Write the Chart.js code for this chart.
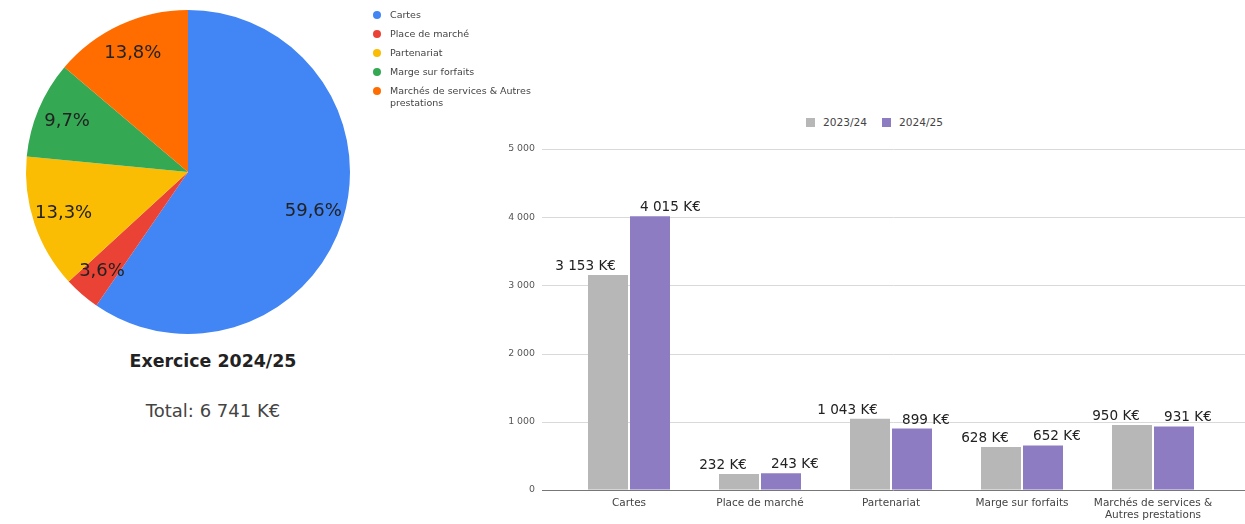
<!DOCTYPE html>
<html><head><meta charset="utf-8">
<script src="https://cdn.jsdelivr.net/npm/chart.js@4.4.1/dist/chart.umd.min.js"></script>
<style>
html,body{margin:0;padding:0;background:#fff;}
body{width:1245px;height:524px;position:relative;overflow:hidden;font-family:'DejaVu Sans',sans-serif;}
#pie{position:absolute;left:0;top:0;}
#bar{position:absolute;left:470px;top:100px;}
#pieLegend{position:absolute;left:373px;top:9px;}
.pl-row{display:flex;align-items:flex-start;min-height:19px;}
.pl-dot{width:8px;height:8px;border-radius:50%;margin-top:2px;margin-right:9px;flex:none;}
.pl-text{font-size:9.5px;line-height:12px;color:#444;width:160px;}
#title{position:absolute;left:0;width:426px;top:351px;text-align:center;font-weight:bold;font-size:17.4px;line-height:20px;color:#222;}
#total{position:absolute;left:0;width:426px;top:400px;text-align:center;font-size:18px;line-height:22px;color:#444;}
#barLegend{position:absolute;left:806px;top:115px;display:flex;align-items:center;height:14px;font-size:10.6px;color:#444;}
.bl-item{display:flex;align-items:center;margin-right:15px;}
.bl-box{width:9px;height:9px;margin-right:8px;}
</style>
</head>
<body>
<canvas id="pie" width="376" height="344"></canvas>
<div id="pieLegend"></div>
<div id="title"></div>
<div id="total"></div>
<div id="barLegend"></div>
<canvas id="bar" width="775" height="424"></canvas>
<script>
const categories = ['Cartes', 'Place de marché', 'Partenariat', 'Marge sur forfaits', 'Marchés de services & Autres prestations'];
const seriesNames = ['2023/24', '2024/25'];
const values2023 = [3153, 232, 1043, 628, 950];
const values2024 = [4015, 243, 899, 652, 931];
const yTicks = [0, 1000, 2000, 3000, 4000, 5000];
const pieColors = ['#4285F4', '#EA4335', '#FBBC04', '#34A853', '#FF6D01'];
const barColors = ['#B7B7B7', '#8E7CC3'];
const pieTitle = 'Exercice 2024/25';
const totalLabel = 'Total: 6 741 K€';

const FONT = "'DejaVu Sans', sans-serif";
const fmt = v => String(v).replace(/\B(?=(\d{3})+(?!\d))/g, ' ');
function wrap(text, max) {
  const words = text.split(' '); const lines = []; let cur = '';
  words.forEach(w => {
    const t = cur ? cur + ' ' + w : w;
    if (t.length > max && cur) { lines.push(cur); cur = w; } else cur = t;
  });
  if (cur) lines.push(cur);
  return lines.length === 1 ? lines[0] : lines;
}

// HTML legends and captions
const pl = document.getElementById('pieLegend');
categories.forEach((c, i) => {
  const row = document.createElement('div'); row.className = 'pl-row';
  const dot = document.createElement('div'); dot.className = 'pl-dot'; dot.style.background = pieColors[i];
  const tx = document.createElement('div'); tx.className = 'pl-text'; tx.textContent = c;
  row.appendChild(dot); row.appendChild(tx); pl.appendChild(row);
});
document.getElementById('title').textContent = pieTitle;
document.getElementById('total').textContent = totalLabel;
const bl = document.getElementById('barLegend');
seriesNames.forEach((s, i) => {
  const it = document.createElement('div'); it.className = 'bl-item';
  const b = document.createElement('div'); b.className = 'bl-box'; b.style.background = barColors[i];
  const t = document.createElement('span'); t.textContent = s;
  it.appendChild(b); it.appendChild(t); bl.appendChild(it);
});

// Pie
const pieLabelPlugin = {
  id: 'pieLabels',
  afterDatasetsDraw(chart) {
    const ctx = chart.ctx; const meta = chart.getDatasetMeta(0);
    const data = chart.data.datasets[0].data;
    const total = data.reduce((a, b) => a + b, 0);
    ctx.save();
    ctx.font = '18px ' + FONT; ctx.fillStyle = '#222';
    ctx.textAlign = 'center'; ctx.textBaseline = 'middle';
    meta.data.forEach((el, i) => {
      const p = el.getProps(['x', 'y', 'startAngle', 'endAngle', 'outerRadius'], true);
      const mid = (p.startAngle + p.endAngle) / 2;
      const r = p.outerRadius * 0.81;
      const txt = (data[i] / total * 100).toFixed(1).replace('.', ',') + '%';
      ctx.fillText(txt, p.x + Math.cos(mid) * r, p.y + Math.sin(mid) * r);
    });
    ctx.restore();
  }
};
new Chart(document.getElementById('pie'), {
  type: 'pie',
  data: { labels: categories, datasets: [{ data: values2024, backgroundColor: pieColors, borderWidth: 0 }] },
  options: {
    responsive: false, animation: false,
    layout: { padding: 10 },
    plugins: { legend: { display: false }, tooltip: { enabled: false } }
  },
  plugins: [pieLabelPlugin]
});

// Bars
const gridPlugin = {
  id: 'extGrid',
  beforeDatasetsDraw(chart) {
    const ctx = chart.ctx, y = chart.scales.y;
    const x0 = chart.chartArea.left - 21.5, x1 = chart.width;
    ctx.save(); ctx.lineWidth = 1; ctx.strokeStyle = '#d9d9d9';
    yTicks.forEach(v => {
      if (v === 0) return;
      const py = Math.round(y.getPixelForValue(v)) + 0.5;
      ctx.beginPath(); ctx.moveTo(x0, py); ctx.lineTo(x1, py); ctx.stroke();
    });
    ctx.restore();
  },
  afterDatasetsDraw(chart) {
    const ctx = chart.ctx, y = chart.scales.y;
    const x0 = chart.chartArea.left - 21.5, x1 = chart.width;
    const py = Math.round(y.getPixelForValue(0)) + 0.5;
    ctx.save(); ctx.lineWidth = 1; ctx.strokeStyle = '#777';
    ctx.beginPath(); ctx.moveTo(x0, py); ctx.lineTo(x1, py); ctx.stroke();
    ctx.restore();
  }
};
const barLabelPlugin = {
  id: 'barLabels',
  afterDatasetsDraw(chart) {
    const ctx = chart.ctx;
    ctx.save(); ctx.font = '13.6px ' + FONT; ctx.fillStyle = '#222'; ctx.textBaseline = 'alphabetic';
    chart.data.datasets.forEach((ds, di) => {
      const meta = chart.getDatasetMeta(di);
      meta.data.forEach((bar, i) => {
        const p = bar.getProps(['x', 'y', 'width'], true);
        const txt = fmt(ds.data[i]) + ' K€';
        if (di === 0) { ctx.textAlign = 'right'; ctx.fillText(txt, p.x + p.width / 2 - 12, p.y - 5); }
        else { ctx.textAlign = 'left'; ctx.fillText(txt, p.x - p.width / 2 + 10, p.y - 5); }
      });
    });
    ctx.restore();
  }
};
new Chart(document.getElementById('bar'), {
  type: 'bar',
  data: {
    labels: categories,
    datasets: [
      { label: seriesNames[0], data: values2023, backgroundColor: barColors[0] },
      { label: seriesNames[1], data: values2024, backgroundColor: barColors[1] }
    ]
  },
  options: {
    responsive: false, animation: false,
    layout: { padding: { top: 49, right: 26.5, bottom: 0, left: 0 } },
    datasets: { bar: { categoryPercentage: 84 / 131, barPercentage: 40 / 42 } },
    plugins: { legend: { display: false }, tooltip: { enabled: false } },
    scales: {
      x: {
        grid: { display: false, drawTicks: false }, border: { display: false },
        ticks: {
          autoSkip: false, maxRotation: 0, minRotation: 0, padding: 7, color: '#444',
          font: { family: FONT, size: 10.5, lineHeight: 1.143 },
          callback: (v, i) => wrap(categories[i], 22)
        },
        afterFit: s => { s.height = 32; }
      },
      y: {
        min: 0, max: 5000,
        grid: { display: false, drawTicks: false }, border: { display: false },
        ticks: { padding: 28.5, color: '#555', font: { family: FONT, size: 9.4 }, callback: v => fmt(v) },
        afterBuildTicks: s => { s.ticks = yTicks.map(v => ({ value: v })); },
        afterFit: s => { s.width = 93.5; }
      }
    }
  },
  plugins: [gridPlugin, barLabelPlugin]
});
</script>
</body></html>
